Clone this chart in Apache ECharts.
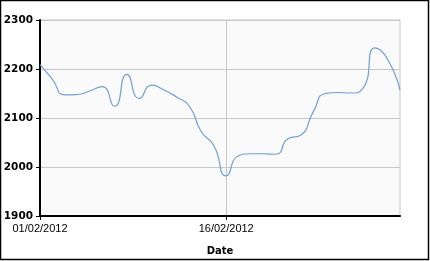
<!DOCTYPE html>
<html>
<head>
<meta charset="utf-8">
<script src="https://cdn.jsdelivr.net/npm/echarts@6/dist/echarts.min.js"></script>
<style>
html,body{margin:0;padding:0;background:#fff;}
#chart{width:430px;height:261px;}
</style>
</head>
<body>
<div id="chart"></div>
<script>
// Dates (Feb 1 2012 .. Mar 1 2012), daily
const dates = ['01/02/2012','02/02/2012','03/02/2012','04/02/2012','05/02/2012','06/02/2012','07/02/2012','08/02/2012','09/02/2012','10/02/2012',
  '11/02/2012','12/02/2012','13/02/2012','14/02/2012','15/02/2012','16/02/2012','17/02/2012','18/02/2012','19/02/2012','20/02/2012',
  '21/02/2012','22/02/2012','23/02/2012','24/02/2012','25/02/2012','26/02/2012','27/02/2012','28/02/2012','29/02/2012','01/03/2012'];
const values = [2209,2179,2147,2148,2155,2164,2124,2189,2140,2167,
  2157,2143,2125,2072,2044,1982,2023,2027,2027,2026,
  2058,2065,2112,2150,2152,2151,2160,2243,2220,2157];
const yTicks = [1900,2000,2100,2200,2300];
const xAxisName = 'Date';

const chart = echarts.init(document.getElementById('chart'), null, {renderer:'canvas'});
chart.setOption({
  animation:false,
  backgroundColor:'#fff',
  grid:{left:40,right:30,top:20,bottom:43,show:true,backgroundColor:'#fafafa',borderColor:'#c8c8c8',borderWidth:1},
  xAxis:{
    type:'category', data:dates, boundaryGap:false,
    name:xAxisName, nameLocation:'middle', nameGap:30,
    nameTextStyle:{fontFamily:'DejaVu Sans',fontWeight:'bold',fontSize:10,color:'#000'},
    axisLine:{lineStyle:{color:'#000',width:2}},
    axisTick:{show:true,interval:14,length:4,lineStyle:{color:'#000'}},
    axisLabel:{interval:14,margin:7,fontFamily:'Liberation Sans',fontSize:11,color:'#000'},
    splitLine:{show:true,interval:14,lineStyle:{color:'#c8c8c8',width:1}}
  },
  yAxis:{
    type:'value', min:yTicks[0], max:yTicks[yTicks.length-1], interval:100,
    axisLine:{show:true,lineStyle:{color:'#000',width:2}},
    axisTick:{show:true,length:4,lineStyle:{color:'#000'}},
    axisLabel:{margin:7,fontFamily:'DejaVu Sans',fontWeight:'bold',fontSize:10.5,color:'#000',formatter:v=>String(v)},
    splitLine:{show:true,lineStyle:{color:'#c8c8c8',width:1}}
  },
  graphic:[{type:'rect',shape:{x:0.5,y:0.5,width:428,height:259},style:{fill:'none',stroke:'#000',lineWidth:1.5},z:100}],
  series:[{
    type:'line', data:values, smooth:0.6, symbol:'none',
    lineStyle:{color:'#6f9fd8',width:1.2}
  }]
});
</script>
</body>
</html>
